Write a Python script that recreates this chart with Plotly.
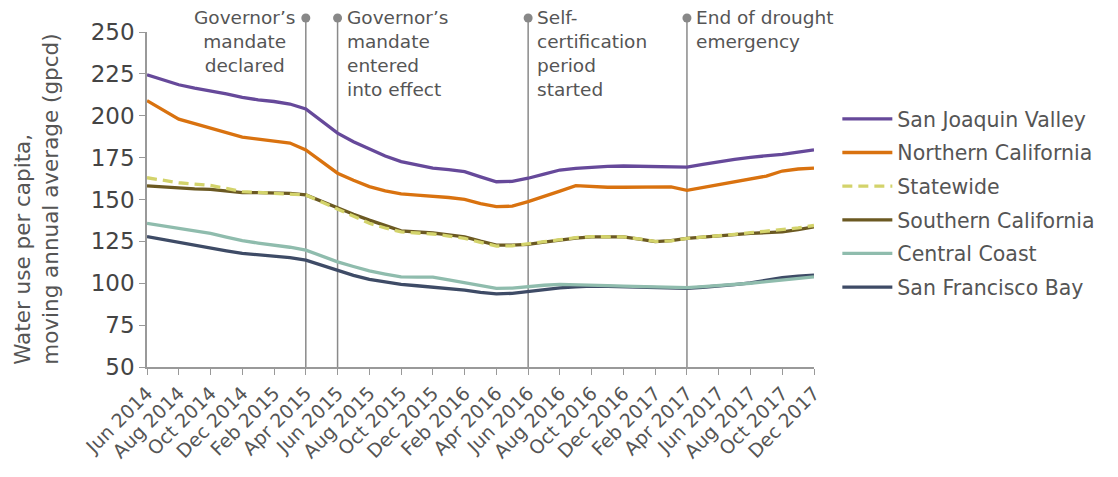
import plotly.graph_objects as go

months = ["Jun 2014","Jul 2014","Aug 2014","Sep 2014","Oct 2014","Nov 2014","Dec 2014",
          "Jan 2015","Feb 2015","Mar 2015","Apr 2015","May 2015","Jun 2015","Jul 2015",
          "Aug 2015","Sep 2015","Oct 2015","Nov 2015","Dec 2015","Jan 2016","Feb 2016",
          "Mar 2016","Apr 2016","May 2016","Jun 2016","Jul 2016","Aug 2016","Sep 2016",
          "Oct 2016","Nov 2016","Dec 2016","Jan 2017","Feb 2017","Mar 2017","Apr 2017",
          "May 2017","Jun 2017","Jul 2017","Aug 2017","Sep 2017","Oct 2017","Nov 2017","Dec 2017"]

san_joaquin = [224.5,221.5,218.5,216.5,215,213,211,209.5,208.5,207,204,197,189.6,184.5,180,176,
               172.6,170.5,168.7,167.8,166.6,163.5,160.6,160.8,162.7,165.2,167.6,168.6,169.3,169.8,
               170,169.9,169.7,169.6,169.3,171,172.6,174,175.2,176,177,178.3,179.6]
northern = [209,203.5,198,195.3,192.6,189.8,187.2,186,185,183.7,179.6,172.5,165.7,161.5,157.7,155.2,
            153.3,152.6,152.1,151.2,150.1,147.5,145.7,146,148.7,151.7,155,158.3,157.6,157.3,
            157.3,157.3,157.3,157.5,155.5,157.2,158.5,160.3,162,164,167,168.2,168.7]
statewide = [163,161.5,160,159.2,158.4,156.6,154.7,154.2,153.7,153.5,152.7,148.5,144.1,139.8,135.8,133,
             130.7,130,129.4,128.2,126.8,124.4,122.2,122.4,123.4,124.8,126,127.2,127.8,127.8,
             127.7,126.5,125,125.3,126.8,127.6,128.3,129.2,130.2,131,132,133,134.5]
southern = [158.1,157.4,156.7,156.4,156.1,155.1,154.1,154.1,154.1,153.7,152.7,148.8,144.7,141.2,137.7,134.4,
            131.3,130.6,130,128.9,127.7,125.1,122.8,122.8,123.2,124.5,125.8,126.9,127.7,127.7,
            127.7,126.3,124.8,125.5,126.8,127.5,128.3,129,129.8,130.2,130.7,132,133.7]
central_coast = [135.8,134.3,132.8,131.3,129.8,127.6,125.4,124,122.8,121.5,119.8,116.2,112.8,110,107.4,105.5,
                 103.8,103.7,103.6,102,100.2,98.5,96.9,97.1,98,98.8,99.3,99.2,98.9,98.6,
                 98.3,98,97.8,97.6,97.4,98,98.6,99.2,100,101,102,103,103.8]
sf_bay = [127.8,126,124.2,122.5,120.8,119.3,117.8,117,116.2,115.3,113.8,110.6,107.4,104.7,102.3,100.8,
          99.3,98.5,97.8,96.9,95.9,94.5,93.6,94,95.2,96.3,97.3,97.9,98.3,98.1,
          97.9,97.7,97.5,97.2,96.9,97.6,98.3,99.2,100.2,101.6,103.4,104.2,104.8]

tick_labels = months[::2]
y_ticks = [50, 75, 100, 125, 150, 175, 200, 225, 250]

events = ["Apr 2015", "Jun 2015", "Jun 2016", "Apr 2017"]
event_texts = ["Governor’s<br>mandate<br>declared",
               "Governor’s<br>mandate<br>entered<br>into effect",
               "Self-<br>certification<br>period<br>started",
               "End of drought<br>emergency"]

FONT = "DejaVu Sans"
TXT = "#555555"

# (name, data, color, dashed, legend rank)
series = [
    ("San Francisco Bay", sf_bay, "#3e4b66", False, 6),
    ("Central Coast", central_coast, "#8fbcad", False, 5),
    ("Southern California", southern, "#6b5922", False, 4),
    ("Statewide", statewide, "#d3d36b", True, 3),
    ("Northern California", northern, "#d9720f", False, 2),
    ("San Joaquin Valley", san_joaquin, "#66499a", False, 1),
]

fig = go.Figure()
for name, data, color, dashed, rank in series:
    fig.add_trace(go.Scatter(
        x=months, y=data, name=name, mode="lines",
        line=dict(color=color, width=3.3, dash="10px,6px" if dashed else "solid"),
        legendrank=rank, legendgroup=name,
    ))

n_span = len(months) - 1
top_px = 18.0
plot_top, plot_bot = 32.0, 367.0
y_top_paper = (plot_bot - top_px) / (plot_bot - plot_top)
px_per_paper_y = plot_bot - plot_top
px_per_paper_x = 667.0

for ev, txt in zip(events, event_texts):
    xp = months.index(ev) / n_span
    fig.add_shape(type="line", xref="paper", yref="paper", x0=xp, x1=xp, y0=0, y1=y_top_paper,
                  line=dict(color="#8a8a8a", width=1.5), layer="below")
    rx = 4.5 / px_per_paper_x
    ry = 4.5 / px_per_paper_y
    fig.add_shape(type="circle", xref="paper", yref="paper",
                  x0=xp - rx, x1=xp + rx, y0=y_top_paper - ry, y1=y_top_paper + ry,
                  fillcolor="#888888", line=dict(color="#888888", width=0))
    if ev == "Apr 2015":
        fig.add_annotation(x=xp, y=y_top_paper, xref="paper", yref="paper", text=txt, showarrow=False,
                           xanchor="right", yanchor="top", align="center", xshift=-9, yshift=13,
                           font=dict(family=FONT, size=18.5, color=TXT))
    else:
        fig.add_annotation(x=xp, y=y_top_paper, xref="paper", yref="paper", text=txt, showarrow=False,
                           xanchor="left", yanchor="top", align="left", xshift=7, yshift=13,
                           font=dict(family=FONT, size=18.5, color=TXT))

fig.add_annotation(
    x=-0.166, y=0.5, xref="paper", yref="paper", textangle=-90, showarrow=False,
    text="Water use per capita,<br>moving annual average (gpcd)", align="left",
    font=dict(family=FONT, size=21.5, color=TXT), xanchor="center", yanchor="middle",
)

fig.update_layout(
    width=1118, height=477,
    margin=dict(l=147, r=304, t=32, b=110),
    paper_bgcolor="white", plot_bgcolor="white",
    font=dict(family=FONT, color=TXT),
    showlegend=True,
    legend=dict(x=1.035, y=0.800, xanchor="left", yanchor="top",
                font=dict(family=FONT, size=20.5, color=TXT),
                tracegroupgap=4, traceorder="grouped", itemwidth=50,
                bgcolor="rgba(0,0,0,0)"),
    xaxis=dict(type="category", range=[0, n_span], tickmode="array", tickvals=tick_labels,
               ticktext=tick_labels, tickangle=-45, ticks="outside", ticklen=6,
               tickcolor="#999999", showline=True, linecolor="#999999", linewidth=1.5,
               showgrid=False, zeroline=False,
               tickfont=dict(family=FONT, size=19, color=TXT)),
    yaxis=dict(range=[50, 250], tickvals=y_ticks, ticks="outside", ticklen=6,
               tickcolor="#999999", showline=True, linecolor="#999999", linewidth=1.5,
               showgrid=False, zeroline=False,
               tickfont=dict(family=FONT, size=23, color="#444444")),
)

fig.write_html("out.html")
